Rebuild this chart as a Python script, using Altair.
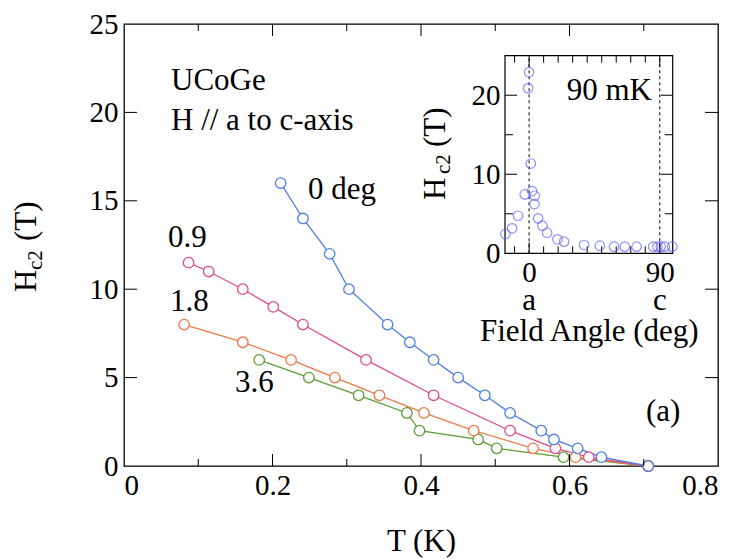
import altair as alt
import pandas as pd

FONT = "Liberation Serif"
W, H = 594, 442

# Hc2(T) for the field tilted from the a-axis toward the c-axis
series = ["3.6", "1.8", "0.9", "0 deg"]
colors = ["#5a9e32", "#e97a48", "#e04b8f", "#4d7fe0"]

t_0deg = [0.211, 0.241, 0.277, 0.303, 0.355, 0.385, 0.417, 0.450, 0.486, 0.520, 0.562, 0.579, 0.611, 0.643, 0.706]
h_0deg = [16.0, 14.0, 12.0, 10.0, 8.0, 7.0, 6.0, 5.0, 4.0, 3.0, 2.0, 1.5, 1.0, 0.5, 0.0]
t_09 = [0.087, 0.114, 0.160, 0.201, 0.241, 0.326, 0.417, 0.520, 0.581, 0.626, 0.706]
h_09 = [11.5, 11.0, 10.0, 9.0, 8.0, 6.0, 4.0, 2.0, 1.0, 0.5, 0.0]
t_18 = [0.081, 0.160, 0.225, 0.284, 0.344, 0.404, 0.471, 0.551, 0.608, 0.706]
h_18 = [8.0, 7.0, 6.0, 5.0, 4.0, 3.0, 2.0, 1.0, 0.5, 0.0]
t_36 = [0.182, 0.249, 0.316, 0.381, 0.398, 0.477, 0.502, 0.592, 0.706]
h_36 = [6.0, 5.0, 4.0, 3.0, 2.0, 1.5, 1.0, 0.5, 0.0]

# Angular dependence of Hc2 at 90 mK
angle = [-16.3, -11.7, -7.6, -3.0, 0.0, -0.7, 1.2, 2.1, 3.9, 3.7, 6.2, 9.2, 12.4, 19.5, 24.1,
         37.9, 48.7, 58.5, 65.9, 74.0, 85.4, 88.4, 90.7, 93.5, 98.6]
hc2_angle = [2.44, 3.16, 4.75, 7.45, 22.9, 20.9, 11.36, 7.87, 7.28, 6.23, 4.42, 3.49, 2.6, 1.77, 1.47,
             1.05, 0.96, 0.84, 0.84, 0.84, 0.84, 0.84, 0.84, 0.84, 0.84]

# tick positions
main_x_labels = [0, 0.2, 0.4, 0.6, 0.8]
main_x_major = [0.2, 0.4, 0.6]
main_x_minor = [0.1, 0.3, 0.5, 0.7]
main_y_ticks = [5, 10, 15, 20]
main_y_labels = [0, 5, 10, 15, 20, 25]
inset_x_labels = [0, 90]
inset_x_minor = [-10, 10, 20, 30, 40, 50, 60, 70, 80]
inset_y_labels = [0, 10, 20]
inset_y_major = [10, 20]
inset_y_minor = [5, 15]
axis_names = ["a", "c"]

frames = []
for name, ts, hs in [("0 deg", t_0deg, h_0deg), ("0.9", t_09, h_09),
                     ("1.8", t_18, h_18), ("3.6", t_36, h_36)]:
    frames.append(pd.DataFrame({"series": name, "T": ts, "Hc2": hs,
                                "order": series.index(name)}))
hc2 = pd.concat(frames, ignore_index=True).sort_values(["order", "T"])

XS = alt.Scale(domain=[0, 0.8], range=[0, W], nice=False, zero=False)
YS = alt.Scale(domain=[0, 25], range=[H, 0], nice=False, zero=False)
CS = alt.Scale(domain=series, range=colors)

# inset sits inside the main plot area
IX0, IX1, IY0, IY1 = 381, 548.7, 229.3, 31.7
XI = alt.Scale(domain=[-16.6, 98.9], range=[IX0, IX1], nice=False, zero=False)
YI = alt.Scale(domain=[0, 25], range=[IY0, IY1], nice=False, zero=False)

LBL = dict(labelFont=FONT, labelFontSize=29, labelColor="black", ticks=False,
           domain=False, grid=False)
TTL = dict(titleFont=FONT, titleFontSize=31, titleFontWeight="normal", titleColor="black")


def txt(s, x, y, size=31, angle=None, align="left"):
    props = dict(text=s, font=FONT, fontSize=size, align=align, baseline="alphabetic")
    if angle is not None:
        props["angle"] = angle
    return alt.Chart(pd.DataFrame({"s": [s]})).mark_text(**props).encode(
        x=alt.value(x), y=alt.value(y))


def vrules(vals, field, scale, y0, y1):
    return alt.Chart(pd.DataFrame({field: vals})).mark_rule(color="black", strokeWidth=1).encode(
        x=alt.X(f"{field}:Q", scale=scale, axis=None), y=alt.value(y0), y2=alt.value(y1))


def hrules(vals, field, scale, x0, x1):
    return alt.Chart(pd.DataFrame({field: vals})).mark_rule(color="black", strokeWidth=1).encode(
        y=alt.Y(f"{field}:Q", scale=scale, axis=None), x=alt.value(x0), x2=alt.value(x1))


base = alt.Chart(hc2)
lines = base.mark_line(strokeWidth=1.3).encode(
    x=alt.X("T:Q", scale=XS, axis=alt.Axis(
        orient="bottom", values=main_x_labels, format=".1~f", labelPadding=5,
        title="T (K)", titleBaseline="alphabetic", titleY=84, **LBL, **TTL)),
    y=alt.Y("Hc2:Q", scale=YS, axis=alt.Axis(
        orient="left", values=main_y_labels, labelPadding=6, title=None, **LBL)),
    color=alt.Color("series:N", scale=CS, legend=None),
    detail="series:N",
    order="T:Q",
)
points = base.mark_point(shape="circle", filled=True, fill="white", size=110,
                         strokeWidth=1.3, opacity=1).encode(
    x=alt.X("T:Q", scale=XS, axis=None),
    y=alt.Y("Hc2:Q", scale=YS, axis=None),
    stroke=alt.Stroke("series:N", scale=CS, legend=None),
)

inset_pts = alt.Chart(pd.DataFrame({"angle": angle, "Hc2": hc2_angle})).mark_point(
    shape="circle", filled=False, size=90, strokeWidth=1.2, color="#6060f8").encode(
    x=alt.X("angle:Q", scale=XI, axis=alt.Axis(
        orient="bottom", offset=-(H - IY0), values=inset_x_labels, labelPadding=5,
        title="Field Angle (deg)", titleBaseline="alphabetic", titleY=87, **LBL, **TTL)),
    y=alt.Y("Hc2:Q", scale=YI, axis=alt.Axis(
        orient="left", offset=-IX0, values=inset_y_labels, labelPadding=5, title=None, **LBL)),
)
inset_frame = alt.Chart(pd.DataFrame({"k": [0]})).mark_rect(
    fill="white", stroke="black", strokeWidth=1.2).encode(
    x=alt.XDatum(-16.6, type="quantitative", scale=XI, axis=None),
    x2=alt.X2Datum(98.9),
    y=alt.YDatum(0, type="quantitative", scale=YI, axis=None),
    y2=alt.Y2Datum(25),
)
dashes = alt.Chart(pd.DataFrame({"angle": inset_x_labels})).mark_rule(
    color="black", strokeDash=[3, 3], strokeWidth=1).encode(
    x=alt.X("angle:Q", scale=XI, axis=None),
    y=alt.YDatum(0, type="quantitative", scale=YI, axis=None),
    y2=alt.Y2Datum(25),
)
axis_letters = alt.Chart(pd.DataFrame({"angle": inset_x_labels, "lab": axis_names})).mark_text(
    font=FONT, fontSize=31, baseline="alphabetic", align="center").encode(
    x=alt.X("angle:Q", scale=XI, axis=None), y=alt.value(286), text="lab:N")

layers = [
    lines, points,
    vrules(main_x_major, "T", XS, H, H - 12),
    vrules(main_x_minor, "T", XS, H, H - 7),
    vrules(main_x_major, "T", XS, 0, 12),
    vrules(main_x_minor, "T", XS, 0, 7),
    hrules(main_y_ticks, "Hc2", YS, 0, 13),
    hrules(main_y_ticks, "Hc2", YS, W, W - 13),
    txt("0 deg", 184, 175),
    txt("0.9", 44, 223),
    txt("1.8", 46, 287),
    txt("3.6", 111, 368),
    txt("(a)", 522, 397),
    txt("UCoGe", 47, 66),
    txt("H // a to c-axis", 47, 106),
    txt("H", -88, 268, angle=270),
    txt("c2", -82, 246, size=21, angle=270),
    txt("(T)", -88, 217, angle=270),
    inset_frame, dashes,
    vrules(inset_x_labels, "angle", XI, IY0, IY0 - 11),
    vrules(inset_x_minor, "angle", XI, IY0, IY0 - 7),
    vrules(inset_x_labels, "angle", XI, IY1, IY1 + 11),
    vrules(inset_x_minor, "angle", XI, IY1, IY1 + 7),
    hrules(inset_y_major, "Hc2", YI, IX0, IX0 + 12),
    hrules(inset_y_minor, "Hc2", YI, IX0, IX0 + 8),
    hrules(inset_y_major, "Hc2", YI, IX1, IX1 - 12),
    hrules(inset_y_minor, "Hc2", YI, IX1, IX1 - 8),
    inset_pts, axis_letters,
    txt("90 mK", 442.7, 76),
    txt("H", 321, 176, angle=270),
    txt("c2", 326, 150, size=21, angle=270),
    txt("(T)", 321, 123, angle=270),
]

chart = alt.layer(*layers).resolve_scale(x="independent", y="independent").properties(
    width=W, height=H,
    autosize=alt.AutoSizeParams(type="none"),
    padding={"left": 124, "top": 24, "right": 20, "bottom": 93},
    background="white",
).configure_view(stroke="black", strokeWidth=1.3)

chart.save("out.html", embed_options={"renderer": "svg", "actions": False})
